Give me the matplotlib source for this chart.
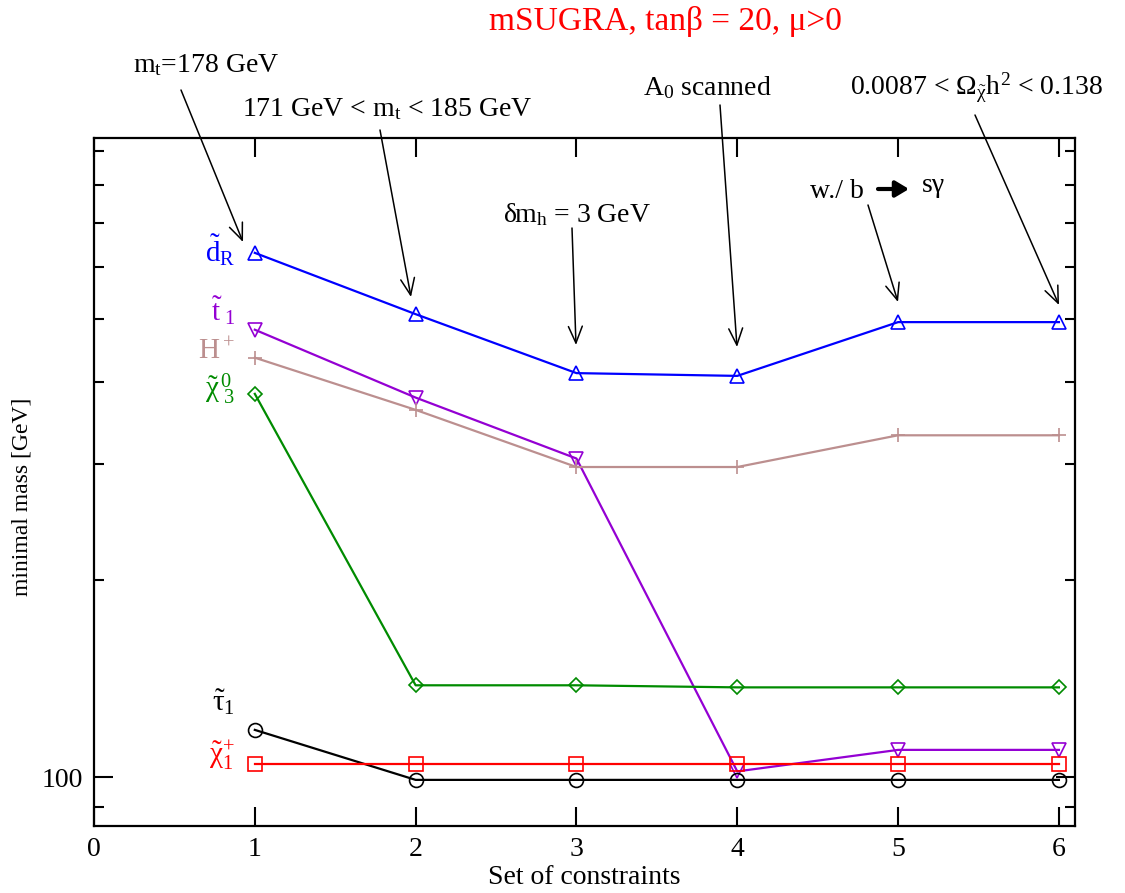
import numpy as np
import matplotlib
matplotlib.use('Agg')
import matplotlib.pyplot as plt
from matplotlib.ticker import LogLocator, NullFormatter, FuncFormatter, MultipleLocator

plt.rcParams['font.family'] = ['Liberation Serif', 'DejaVu Serif']
plt.rcParams['mathtext.fontset'] = 'custom'
plt.rcParams['mathtext.rm'] = 'Liberation Serif'
plt.rcParams['mathtext.it'] = 'Liberation Serif:italic'
plt.rcParams['mathtext.bf'] = 'Liberation Serif:bold'

# set of constraints and minimal masses [GeV]
constraint_set = [1, 2, 3, 4, 5, 6]
m_dR = [630, 508, 413, 409, 494, 494]
m_t1 = [481, 379, 306, 102, 110, 110]
m_Hp = [436, 363, 297, 297, 332, 332]
m_chi03 = [384, 138, 138, 137, 137, 137]
m_tau1 = [118, 99, 99, 99, 99, 99]
m_chip1 = [104.7, 104.7, 104.7, 104.7, 104.7, 104.7]

W, H = 1125, 893
fig = plt.figure(figsize=(W / 100, H / 100), dpi=100)


def px(x, y):
    # pixel position (from top left) -> figure fraction
    return (x / W, 1 - y / H)


ax = fig.add_axes([94 / W, 1 - 826 / H, (1075 - 94) / W, (826 - 138.3) / H])

series = [
    (m_dR, '#0000ff', '^', 9.5),
    (m_t1, '#9400d3', 'v', 9.5),
    (m_Hp, '#bc8f8f', '+', 10),
    (m_chi03, '#008b00', 'D', 7),
    (m_tau1, 'k', 'o', 10),
    (m_chip1, '#ff0000', 's', 9.5),
]
for vals, col, mk, ms in series:
    ax.plot(constraint_set, vals, color=col, lw=1.6, marker=mk, ms=ms,
            mfc='none', mec=col, mew=1.2)

ax.set_yscale('log')
ax.set_xlim(0, 6.1)
ax.set_ylim(84.2, 942)
ax.xaxis.set_major_locator(MultipleLocator(1))
ax.yaxis.set_major_locator(LogLocator(base=10))
ax.yaxis.set_minor_locator(LogLocator(base=10, subs=np.arange(2, 10)))
ax.yaxis.set_major_formatter(FuncFormatter(lambda v, p: '%d' % v))
ax.yaxis.set_minor_formatter(NullFormatter())
ax.tick_params(which='both', direction='in', top=True, right=True, labelsize=20, width=1.5)
ax.tick_params(which='major', length=14)
ax.tick_params(which='minor', length=7)
ax.tick_params(axis='x', pad=8)
ax.tick_params(axis='y', pad=8)
for s in ax.spines.values():
    s.set_linewidth(1.6)

ax.set_xlabel('Set of constraints', fontsize=20, labelpad=2)
ax.set_ylabel('minimal mass [GeV]', fontsize=17, va='center')
ax.yaxis.set_label_coords((22 - 94) / 981, 0.478)

# title
fig.text(*px(665, 30), 'mSUGRA, tanβ = 20, μ>0', color='#ff0000', fontsize=24,
         ha='center', va='baseline')

# particle labels
labels = [
    (r'$\tilde{\mathrm{d}}_\mathrm{R}$', '#0000ff', 250),
    (r'$\tilde{\mathrm{t}}_{\ 1}$', '#9400d3', 311),
    (r'H$^+$', '#bc8f8f', 352),
    (r'$\tilde{\mathrm{χ}}^{\,0}_{\ 3}$', '#008b00', 389),
    (r'$\tilde{\mathrm{τ}}_1$', 'k', 702),
    (r'$\tilde{\mathrm{χ}}^{+}_{1}$', '#ff0000', 756),
]
for txt, col, y in labels:
    fig.text(*px(235, y), txt, color=col, fontsize=21, ha='right', va='center')

# annotations with arrows
notes = [
    (r'm$_\mathrm{t}$=178 GeV', 133, 72),
    (r'171 GeV < m$_\mathrm{t}$ < 185 GeV', 242, 116),
    (r'δm$_\mathrm{h}$ = 3 GeV', 503, 222),
    (r'A$_0$ scanned', 643, 95),
    (r'0.0087 < Ω$_{\tilde{\mathrm{χ}}}$h$^2$ < 0.138', 850, 95),
    ('w./ b', 810, 198),
    ('sγ', 922, 192),
]
for txt, x, y in notes:
    fig.text(*px(x, y), txt, fontsize=20, ha='left', va='baseline')

arrows = [
    ((181, 90), (243, 242)),
    ((380, 130), (411, 297)),
    ((572, 228), (576, 345)),
    ((720, 105), (737, 347)),
    ((868, 205), (898, 302)),
    ((975, 115), (1059, 305)),
]
for start, tip in arrows:
    ax.annotate('', xy=px(*tip), xycoords='figure fraction',
                xytext=px(*start), textcoords='figure fraction',
                arrowprops=dict(arrowstyle='->,head_length=0.6,head_width=0.25',
                                lw=1.1, color='k', shrinkA=0, shrinkB=0,
                                mutation_scale=20))
ax.annotate('', xy=px(909, 189), xycoords='figure fraction',
            xytext=px(878, 189), textcoords='figure fraction',
            arrowprops=dict(arrowstyle='-|>,head_length=0.5,head_width=0.3',
                            lw=3, color='k', shrinkA=0, shrinkB=0,
                            mutation_scale=16))

fig.savefig('out.png', dpi=100)
